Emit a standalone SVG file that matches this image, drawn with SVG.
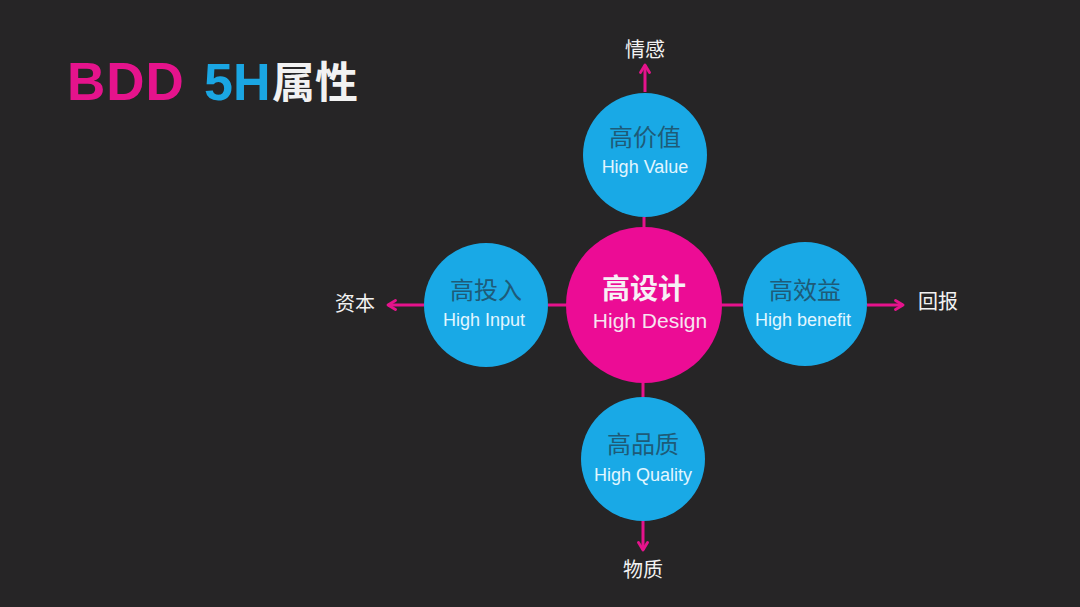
<svg xmlns="http://www.w3.org/2000/svg" width="1080" height="607" viewBox="0 0 1080 607">
<defs>
<marker id="ah" markerWidth="12" markerHeight="12" refX="9" refY="6" orient="auto" markerUnits="userSpaceOnUse">
<path d="M1.5,1.5 L9,6 L1.5,10.5" fill="none" stroke="#e5138c" stroke-width="2.8" stroke-linecap="round" stroke-linejoin="round"/>
</marker>
<style>
.ln{stroke:#e5138c;stroke-width:3;fill:none}
.bc{fill:#19a9e6}
.cn{font-family:"Noto Sans CJK SC","Liberation Sans",sans-serif;font-size:24px;fill:#1e5b78;text-anchor:middle}
.en{font-family:"Liberation Sans",Arial,sans-serif;font-size:18px;fill:#e2f6ff;text-anchor:middle}
.lb{font-family:"Noto Sans CJK SC","Liberation Sans",sans-serif;font-size:20px;fill:#f2f2f2;text-anchor:middle}
</style>
</defs>
<rect width="1080" height="607" fill="#262526"/>
<g id="title" font-family="'Liberation Sans',Arial,sans-serif" font-weight="bold">
<text x="67" y="100" font-size="53" fill="#e5138c" letter-spacing="1">BDD</text>
<text x="204" y="100" font-size="52" fill="#1aa6e3">5H</text>
<text x="272" y="98" font-size="43" fill="#f2f2f2" font-family="'Noto Sans CJK SC',sans-serif">属性</text>
</g>
<g id="connectors">
<line class="ln" x1="645" y1="92" x2="645" y2="65" marker-end="url(#ah)"/>
<line class="ln" x1="644" y1="217" x2="644" y2="230"/>
<line class="ln" x1="424" y1="305" x2="388" y2="305" marker-end="url(#ah)"/>
<line class="ln" x1="548" y1="305" x2="567" y2="305"/>
<line class="ln" x1="721" y1="305" x2="743" y2="305"/>
<line class="ln" x1="867" y1="305" x2="903" y2="305" marker-end="url(#ah)"/>
<line class="ln" x1="643" y1="380" x2="643" y2="398"/>
<line class="ln" x1="643" y1="520" x2="643" y2="550" marker-end="url(#ah)"/>
</g>
<g id="n-top">
<circle class="bc" cx="645" cy="155" r="62"/>
<text class="cn" x="645" y="146">高价值</text>
<text class="en" x="645" y="173">High Value</text>
</g>
<g id="n-left">
<circle class="bc" cx="486" cy="305" r="62"/>
<text class="cn" x="486" y="299">高投入</text>
<text class="en" x="484" y="326">High Input</text>
</g>
<g id="n-right">
<circle class="bc" cx="805" cy="304" r="62"/>
<text class="cn" x="805" y="299">高效益</text>
<text class="en" x="803" y="326">High benefit</text>
</g>
<g id="n-bottom">
<circle class="bc" cx="643" cy="459" r="62"/>
<text class="cn" x="643" y="453">高品质</text>
<text class="en" x="643" y="481">High Quality</text>
</g>
<g id="n-center">
<circle cx="644" cy="305" r="78" fill="#ec0c95"/>
<text x="644" y="299" font-family="'Noto Sans CJK SC',sans-serif" font-weight="bold" font-size="28" fill="#f7f0f5" text-anchor="middle">高设计</text>
<text x="650" y="328" font-family="'Liberation Sans',Arial,sans-serif" font-size="21" fill="#f7e4f0" text-anchor="middle">High Design</text>
</g>
<g id="labels">
<text class="lb" x="645" y="57">情感</text>
<text class="lb" x="355" y="311">资本</text>
<text class="lb" x="938" y="309">回报</text>
<text class="lb" x="643" y="577">物质</text>
</g>
</svg>
